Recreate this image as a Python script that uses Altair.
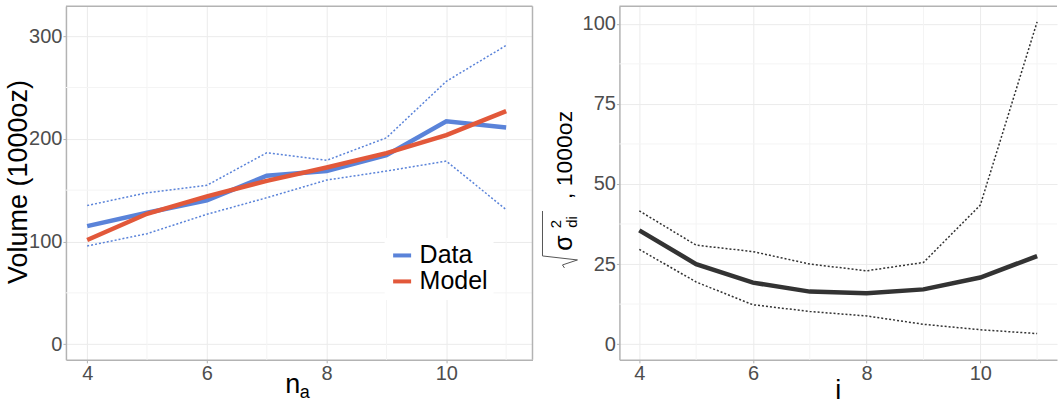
import altair as alt
import pandas as pd

# ---------------- data ----------------
n_a = [4, 5, 6, 7, 8, 9, 10, 11]
vol_data = [115, 128, 140, 164, 168.6, 184, 217, 211]
vol_model = [101.5, 127, 144, 159, 172, 186, 203.6, 227]
vol_upper = [135, 147.5, 154.7, 186.4, 179, 201, 256, 291]
vol_lower = [95.6, 107.6, 126.5, 142.6, 159.8, 168.6, 178.3, 131]

i_vals = [4, 5, 6, 7, 8, 9, 10, 11]
sig_mean = [35.5, 25, 19.2, 16.4, 15.9, 17.1, 20.8, 27.5]
sig_upper = [41.6, 30.9, 28.9, 25, 22.9, 25.5, 43.4, 100.6]
sig_lower = [29.6, 19.4, 12.3, 10.2, 8.8, 6.2, 4.5, 3.3]

series_names = ["Data", "Model"]
x_ticks = [4, 6, 8, 10]
x_minor = [5, 7, 9, 11]
left_y_ticks = [0, 100, 200, 300]
left_y_minor = [50, 150, 250]
right_y_ticks = [0, 25, 50, 75, 100]
right_y_minor = [12.5, 37.5, 62.5, 87.5]

# ---------------- style ----------------
FONT = "Liberation Sans"
GRID = "#ebebeb"
MINOR = "#f4f4f4"
BORDER = "#b3b3b3"
LABEL = "#4d4d4d"
BLUE = "#5a83d9"
RED = "#e2583a"
DARK = "#333333"

W1, W2, H = 467, 438, 354

xsL = alt.Scale(domain=[3.645, 11.44], nice=False, zero=False)
ysL = alt.Scale(domain=[-15.3, 329.2], nice=False, zero=False)
xsR = alt.Scale(domain=[3.65, 11.35], nice=False, zero=False)
ysR = alt.Scale(domain=[-4.9, 105.5], nice=False, zero=False)


def make_axis(vals):
    return alt.Axis(values=vals, title=None, grid=True, gridColor=GRID, gridWidth=1,
                    domain=True, domainColor=BORDER, domainWidth=1.5,
                    ticks=True, tickColor=BORDER, tickSize=3, tickWidth=1,
                    labelFont=FONT, labelFontSize=20, labelColor=LABEL,
                    labelPadding=1, format="d")


AX_X = make_axis(x_ticks)
AX_YL = make_axis(left_y_ticks)
AX_YR = make_axis(right_y_ticks)


def one():
    return alt.Chart(pd.DataFrame({"k": [0]}))


def txt(text, x, y, size, angle=0, align="center", baseline="alphabetic", color="black"):
    return one().mark_text(text=text, font=FONT, fontSize=size, angle=angle, align=align,
                           baseline=baseline, color=color).encode(x=alt.value(x), y=alt.value(y))


def seg(x1, y1, x2, y2, color=BORDER, w=1.5):
    return one().mark_rule(color=color, strokeWidth=w).encode(
        x=alt.value(x1), y=alt.value(y1), x2=alt.value(x2), y2=alt.value(y2))


# ---------------- left panel ----------------
df_left = pd.DataFrame({"n": n_a * 2, "vol": vol_data + vol_model,
                        "series": ["Data"] * len(n_a) + ["Model"] * len(n_a)})
df_left_band = pd.DataFrame({"n": n_a * 2, "vol": vol_upper + vol_lower,
                             "band": ["upper"] * len(n_a) + ["lower"] * len(n_a)})

minor_yL = alt.Chart(pd.DataFrame({"v": left_y_minor})).mark_rule(color=MINOR, strokeWidth=1).encode(
    y=alt.Y("v:Q", scale=ysL, axis=AX_YL))
minor_xL = alt.Chart(pd.DataFrame({"v": x_minor})).mark_rule(color=MINOR, strokeWidth=1).encode(
    x=alt.X("v:Q", scale=xsL, axis=AX_X))
bandL = alt.Chart(df_left_band).mark_line(color=BLUE, strokeWidth=1.5, strokeDash=[2, 2]).encode(
    x=alt.X("n:Q", scale=xsL, axis=AX_X), y=alt.Y("vol:Q", scale=ysL, axis=AX_YL), detail="band:N")
mainL = alt.Chart(df_left).mark_line(strokeWidth=4.5).encode(
    x=alt.X("n:Q", scale=xsL, axis=AX_X),
    y=alt.Y("vol:Q", scale=ysL, axis=AX_YL),
    color=alt.Color("series:N", scale=alt.Scale(domain=series_names, range=[BLUE, RED]),
                    legend=alt.Legend(title=None, orient="none", legendX=319, legendY=232,
                                      fillColor="white", padding=5, symbolType="stroke",
                                      symbolSize=324, symbolStrokeWidth=4, labelFont=FONT,
                                      labelFontSize=25, labelColor="black", labelOffset=5,
                                      rowPadding=0, labelLimit=300)))

left = alt.layer(
    minor_yL, minor_xL, bandL, mainL,
    seg(0, 0, W1, 0), seg(W1, 0, W1, H),
    txt("Volume (1000oz)", -39, 176, 27, angle=270),
    txt("n", 227, 387, 27),
    txt("a", 239, 392, 18),
).properties(width=W1, height=H)

# ---------------- right panel ----------------
df_right = pd.DataFrame({"i": i_vals, "sd": sig_mean})
df_right_band = pd.DataFrame({"i": i_vals * 2, "sd": sig_upper + sig_lower,
                              "band": ["upper"] * len(i_vals) + ["lower"] * len(i_vals)})

minor_yR = alt.Chart(pd.DataFrame({"v": right_y_minor})).mark_rule(color=MINOR, strokeWidth=1).encode(
    y=alt.Y("v:Q", scale=ysR, axis=AX_YR))
minor_xR = alt.Chart(pd.DataFrame({"v": x_minor})).mark_rule(color=MINOR, strokeWidth=1).encode(
    x=alt.X("v:Q", scale=xsR, axis=AX_X))
bandR = alt.Chart(df_right_band).mark_line(color=DARK, strokeWidth=1.5, strokeDash=[2, 2]).encode(
    x=alt.X("i:Q", scale=xsR, axis=AX_X), y=alt.Y("sd:Q", scale=ysR, axis=AX_YR), detail="band:N")
mainR = alt.Chart(df_right).mark_line(color=DARK, strokeWidth=4.5).encode(
    x=alt.X("i:Q", scale=xsR, axis=AX_X),
    y=alt.Y("sd:Q", scale=ysR, axis=AX_YR))

right = alt.layer(
    minor_yR, minor_xR, bandR, mainR,
    seg(0, 0, W2, 0),
    txt(", 1000oz", -47, 193, 23, angle=270, align="left"),
    txt("σ", -47, 237, 25, angle=270),
    txt("2", -58, 218, 15, angle=270),
    txt("di", -42, 216, 15, angle=270),
    seg(-77, 205, -77, 250, color="#555555", w=1),
    seg(-77, 250, -42, 254, color="#555555", w=1),
    seg(-42, 254, -57, 259, color="#555555", w=1),
    seg(-57, 259, -55, 262, color="#555555", w=1),
    txt("i", W2 / 2, 393, 27),
).properties(width=W2, height=H)

chart = alt.hconcat(left, right, spacing=87, bounds="flush").properties(
    padding={"left": 5, "top": 5, "right": 0, "bottom": 0}
).configure_view(strokeWidth=0)

chart.save("out.html", embed_options={"renderer": "svg", "actions": False})
